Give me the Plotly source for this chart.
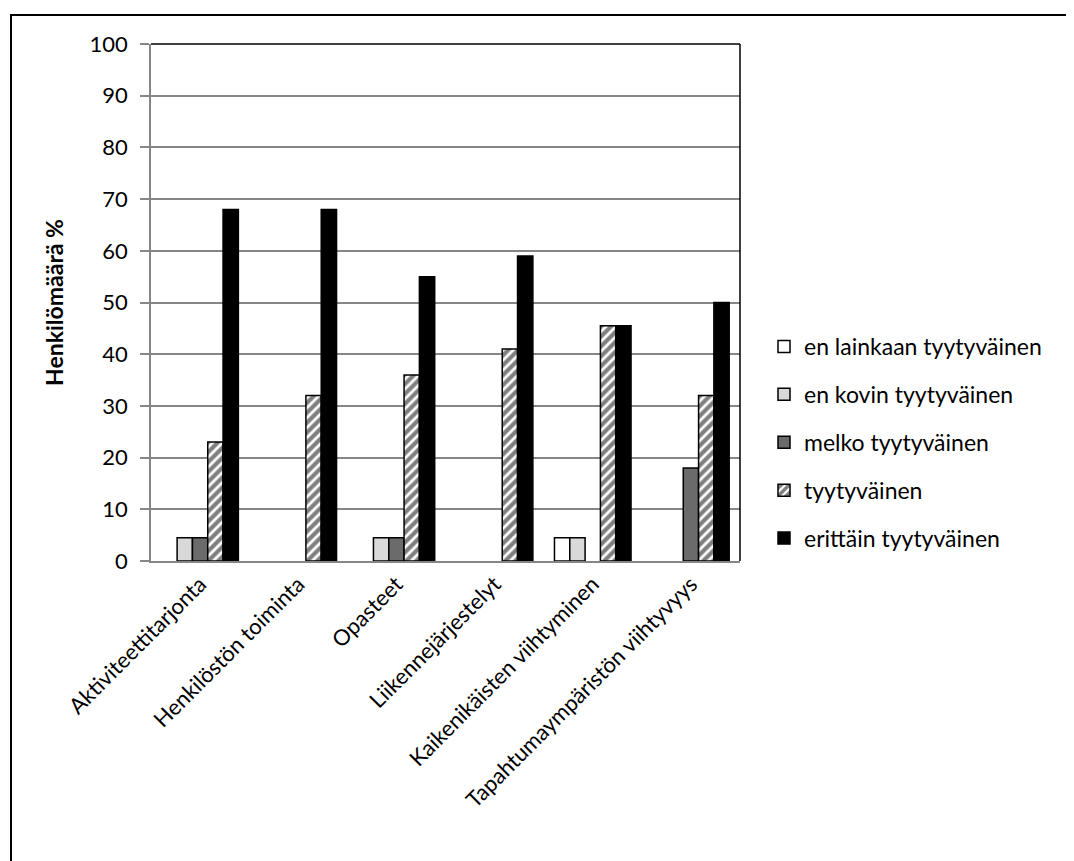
import plotly.graph_objects as go

categories = ["Aktiviteettitarjonta", "Henkilöstön toiminta", "Opasteet",
              "Liikennejärjestelyt", "Kaikenikäisten viihtyminen",
              "Tapahtumaympäristön viihtyvyys"]
series_names = ["en lainkaan tyytyväinen", "en kovin tyytyväinen",
                "melko tyytyväinen", "tyytyväinen", "erittäin tyytyväinen"]
en_lainkaan = [0, 0, 0, 0, 4.5, 0]
en_kovin = [4.5, 0, 4.5, 0, 4.5, 0]
melko = [4.5, 0, 4.5, 0, 0, 18]
tyytyvainen = [23, 32, 36, 41, 45.5, 32]
erittain = [68, 68, 55, 59, 45.5, 50]
y_ticks = [0, 10, 20, 30, 40, 50, 60, 70, 80, 90, 100]

W, H = 1074, 861
OFF = 8  # page body margin
L, R, T, B = 151 - OFF, 740 - OFF, 44 - OFF, 561 - OFF
FONT = "Lato"

fills = ["#ffffff", "#d9d9d9", "#6b6b6b", "#ffffff", "#000000"]
values = [en_lainkaan, en_kovin, melko, tyytyvainen, erittain]

fig = go.Figure()
for i, (name, vals, col) in enumerate(zip(series_names, values, fills)):
    marker = dict(color=col, line=dict(color="#000000", width=1.5))
    if i == 3:
        marker["pattern"] = dict(shape="/", fgcolor="#000000", bgcolor="#ffffff",
                                 size=7, solidity=0.6)
    fig.add_trace(go.Bar(name=name, x=categories,
                         y=[v if v else None for v in vals], marker=marker,
                         legendgroup=f"g{i}"))

pw = R - L
ph = B - T
fig.update_layout(
    width=W, height=H,
    margin=dict(l=L, r=W - R, t=T, b=H - B, pad=0),
    paper_bgcolor="white", plot_bgcolor="white",
    barmode="group", bargap=0.22, bargroupgap=0,
    font=dict(family=FONT, size=22, color="#000000"),
    showlegend=True,
    legend=dict(x=(764 - OFF - L) / pw, y=(B - (325 - OFF)) / ph,
                xanchor="left", yanchor="top",
                font=dict(family=FONT, size=23, color="#000000"),
                traceorder="grouped", tracegroupgap=15,
                itemwidth=30, bgcolor="rgba(0,0,0,0)"),
    yaxis=dict(range=[0, 100], tickvals=y_ticks, showgrid=True,
               gridcolor="#868686", gridwidth=1.5, showline=True,
               linecolor="#868686", linewidth=1.5, ticks="outside",
               ticklen=9, tickcolor="#868686", tickwidth=1.5,
               ticklabelstandoff=8, zeroline=False,
               tickfont=dict(family=FONT, size=22),
               title=dict(text="<b>Henkilömäärä %</b>", standoff=20,
                          font=dict(family=FONT, size=23))),
    xaxis=dict(showline=True, linecolor="#868686", linewidth=1.5,
               tickangle=-45, ticks="", showgrid=False,
               tickfont=dict(family=FONT, size=22)),
)

# plot area top/right border lines (dark)
fig.add_shape(type="line", xref="paper", yref="paper", x0=0, x1=1, y0=1, y1=1,
              line=dict(color="#000000", width=1.5))
fig.add_shape(type="line", xref="paper", yref="paper", x0=1, x1=1, y0=0, y1=1,
              line=dict(color="#000000", width=1.5))
# outer chart border
fig.add_shape(type="rect", xref="paper", yref="paper",
              x0=(11 - OFF - L) / pw, x1=(W + 20 - L) / pw,
              y0=(B - (H + 20)) / ph, y1=(B - (15 - OFF)) / ph,
              line=dict(color="#000000", width=2), layer="below")

fig.write_html("out.html")
